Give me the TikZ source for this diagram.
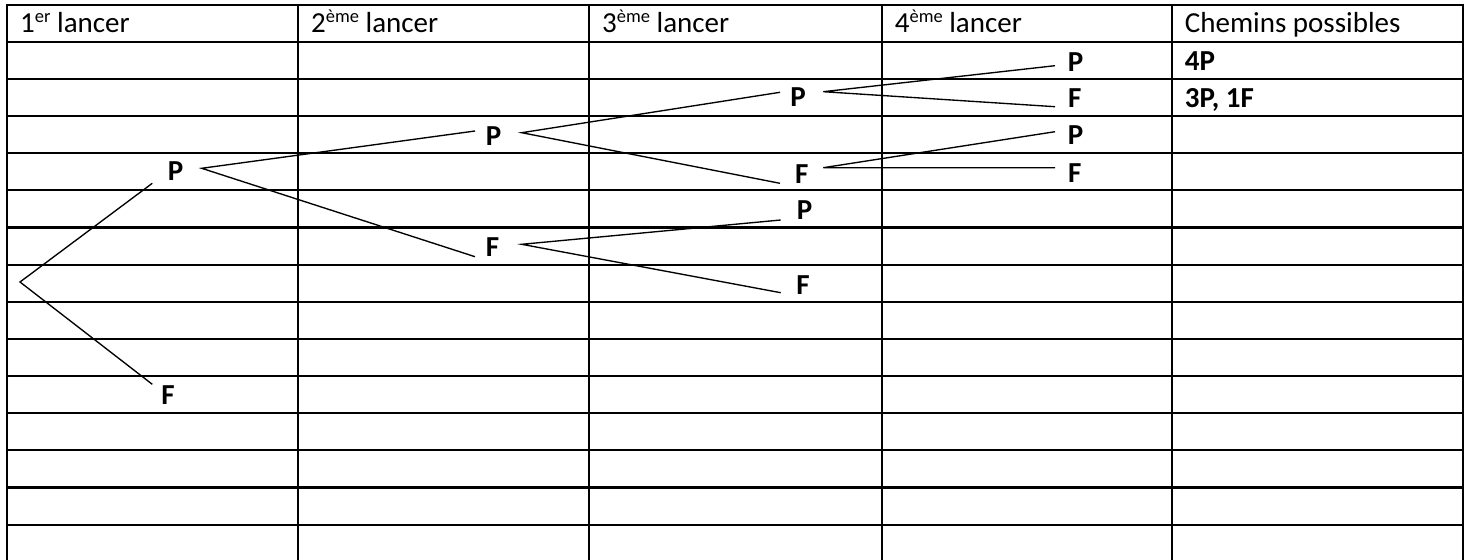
\documentclass[tikz,border=0pt]{standalone}
\usepackage{fontspec}
\setmainfont{Carlito}
\newcommand{\supx}[1]{\raisebox{10pt}{\fontsize{18.5}{19}\selectfont #1}}
\begin{document}
\begin{tikzpicture}[x=1pt,y=-1pt,
  grid/.style={line width=2.1pt, line cap=rect},
  branch/.style={line width=1.35pt},
  head/.style={anchor=base west, inner sep=0pt, font=\fontsize{29}{35}\selectfont},
  result/.style={anchor=base west, inner sep=0pt, font=\fontsize{29}{35}\selectfont\bfseries},
  leaf/.style={anchor=center, inner sep=0pt, font=\fontsize{29}{35}\selectfont\bfseries}]
\useasboundingbox (0,0) rectangle (1471,559);
\fill[white] (0,0) rectangle (1471,559);
% table
\foreach \y in {5,41.7,78.85,116,153.15,190.3,227.45,264.6,301.75,338.9,376.05,413.2,450.35,487.5,524.65}
  \draw[grid] (7,\y) -- (1462.7,\y);
\foreach \x in {7,298,589,881.7,1171.7,1462.7}
  \draw[grid] (\x,5) -- (\x,562);
% headers
\node[head] (h1) at (20,33) {1\supx{er} lancer};
\node[head] (h2) at (311,33) {2\supx{ème} lancer};
\node[head] (h3) at (602,33) {3\supx{ème} lancer};
\node[head] (h4) at (894.7,33) {4\supx{ème} lancer};
\node[head] (h5) at (1184.7,33) {Chemins possibles};
\node[result] (c1) at (1184.7,70.5) {4P};
\node[result] (c2) at (1184.7,107.5) {3P, 1F};
% tree letters
\node[leaf] (P1) at (175.5,171.5) {P};
\node[leaf] (F1) at (168,395.5) {F};
\node[leaf] (P2) at (493.5,136) {P};
\node[leaf] (F2) at (492.5,247) {F};
\node[leaf] (PP) at (798,97.3) {P};
\node[leaf] (PF) at (801.7,174) {F};
\node[leaf] (FP) at (804.7,210) {P};
\node[leaf] (FF) at (803,284.7) {F};
\node[leaf] (PPP) at (1075.5,61.7) {P};
\node[leaf] (PPF) at (1074.7,98.3) {F};
\node[leaf] (PFP) at (1075.5,135.5) {P};
\node[leaf] (PFF) at (1074.7,173) {F};
% branch end points
\coordinate (r) at (20,282);
\coordinate (P1in) at (152.3,183.3);
\coordinate (F1in) at (152.3,384.3);
\coordinate (P1out) at (201.7,168.3);
\coordinate (P2in) at (475,131);
\coordinate (F2in) at (475,256.7);
\coordinate (P2out) at (521.7,132.7);
\coordinate (F2out) at (521.7,244.3);
\coordinate (PPin) at (780,92.3);
\coordinate (PFin) at (780,183.3);
\coordinate (FPin) at (780.7,220);
\coordinate (FFin) at (780.7,292.7);
\coordinate (PPout) at (823.3,91.7);
\coordinate (PFout) at (823.3,167.7);
\coordinate (PPPin) at (1055,65.7);
\coordinate (PPFin) at (1055,106.7);
\coordinate (PFPin) at (1055,131.7);
\coordinate (PFFin) at (1055,167.7);
% branches
\draw[branch] (P1in) -- (r) -- (F1in);
\draw[branch] (P2in) -- (P1out) -- (F2in);
\draw[branch] (PPin) -- (P2out) -- (PFin);
\draw[branch] (FPin) -- (F2out) -- (FFin);
\draw[branch] (PPPin) -- (PPout) -- (PPFin);
\draw[branch] (PFPin) -- (PFout) -- (PFFin);
\end{tikzpicture}
\end{document}
